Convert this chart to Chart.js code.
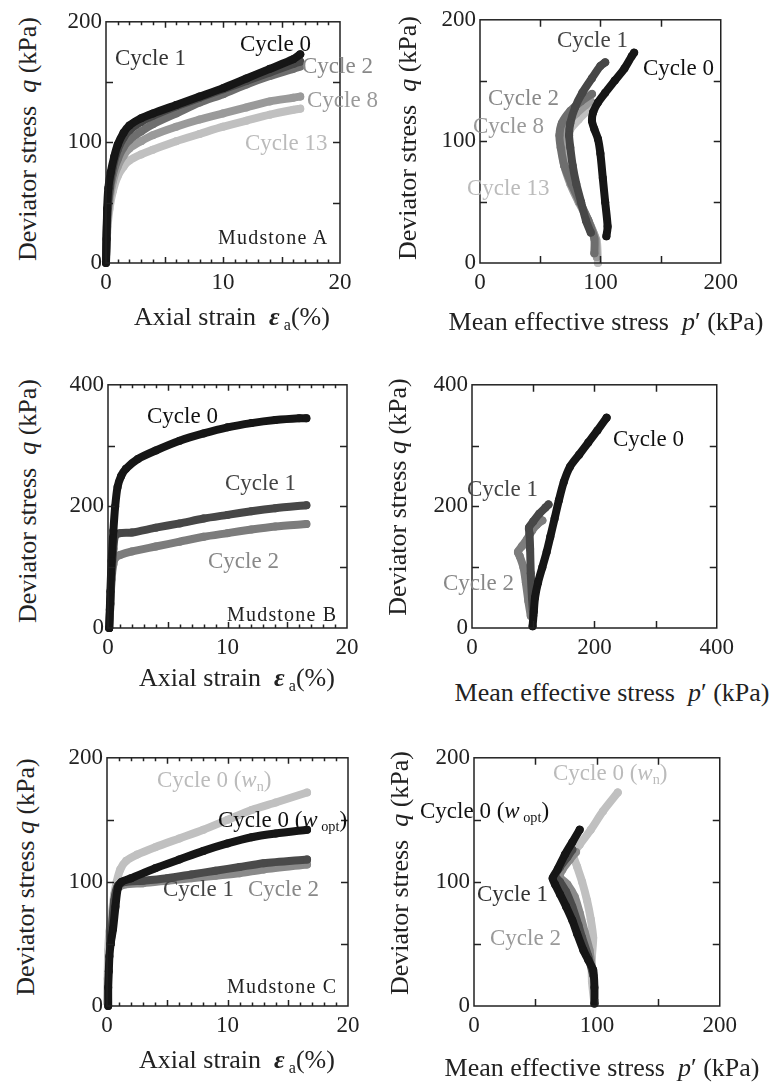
<!DOCTYPE html>
<html>
<head>
<meta charset="utf-8">
<script src="https://cdn.jsdelivr.net/npm/chart.js@4.4.1/dist/chart.umd.min.js"></script>
<style>
  body { margin: 0; background: #fff; width: 773px; height: 1084px; position: relative; overflow: hidden;
         font-family: "Liberation Serif", "Times New Roman", serif; color: #222; }
  .panel { position: absolute; }
  .lbl { position: absolute; white-space: nowrap; font-size: 23px; line-height: 1; transform: translateY(-50%); }
  .tag { font-size: 20px; letter-spacing: 1.2px; }
  .ytitle { position: absolute; white-space: nowrap; font-size: 26px; line-height: 1;
            transform: translate(-50%, -50%) rotate(-90deg); }
  .xtitle { position: absolute; white-space: nowrap; font-size: 26px; line-height: 1; transform: translate(-50%, -50%); }
  sub { font-size: 0.62em; vertical-align: -0.3em; line-height: 0; }
</style>
</head>
<body>
<script>
// Mudstone A: q (kPa) vs axial strain (%)
const aStrainC0 = [[0,0],[0.05,20],[0.1,45],[0.2,62],[0.4,75],[0.7,88],[1,98],[1.5,108],[2,114],[3,120],[4,124],[6,131],[8,138],[10,145],[12,153],[14,161],[16,169],[16.6,173]];
const aStrainC1 = [[0,5],[0.1,40],[0.3,62],[0.6,80],[1,94],[1.5,104],[2,110],[3,117],[4,122],[6,130],[8,137],[10,144],[12,151],[14,158],[16,165],[16.6,167]];
const aStrainC2 = [[0,5],[0.1,35],[0.3,58],[0.6,74],[1,86],[1.5,96],[2,102],[3,109],[4,115],[6,124],[8,133],[10,140],[12,148],[14,155],[16,161],[16.6,163]];
const aStrainC8 = [[0,5],[0.1,30],[0.3,52],[0.6,68],[1,80],[1.5,89],[2,95],[3,101],[4,106],[6,113],[8,119],[10,124],[12,129],[14,134],[16,137],[16.6,138]];
const aStrainC13 = [[0,0],[0.1,25],[0.3,45],[0.6,60],[1,72],[1.5,80],[2,85],[3,90],[4,94],[6,101],[8,107],[10,113],[12,118],[14,123],[16,127],[16.6,128]];

// Mudstone A: q vs mean effective stress p' (kPa)
const aPathC0 = [[105,22],[106,30],[104,50],[102,70],[100,90],[98,102],[95,110],[93,117],[94,124],[98,132],[104,140],[112,150],[120,160],[126,170],[128,173]];
const aPathC1 = [[92,25],[88,35],[84,50],[80,65],[77,80],[75,95],[74,105],[75,115],[79,128],[85,140],[93,152],[100,162],[104,165]];
const aPathC2 = [[95,8],[95,20],[90,35],[83,50],[76,65],[70,80],[67,95],[66,105],[68,115],[75,125],[84,133],[93,139]];
const aPathC8 = [[97,5],[96,20],[90,35],[82,50],[75,65],[70,80],[68,95],[68,105],[72,115],[80,123],[88,130],[92,133]];
const aPathC13 = [[98,0],[97,18],[92,30],[85,45],[78,60],[73,75],[71,90],[71,100],[75,110],[82,118],[90,126]];

// Mudstone B
const bStrainC0 = [[0.1,0],[0.15,30],[0.2,60],[0.3,110],[0.45,160],[0.6,200],[0.8,232],[1.1,250],[1.5,262],[2.5,278],[4,292],[6,308],[8,320],[10,330],[12,337],[14,342],[16,345],[16.6,345]];
const bStrainC1 = [[0.1,0],[0.2,40],[0.3,90],[0.45,130],[0.6,152],[1,156],[2,157],[4,165],[6,172],[8,180],[10,186],[12,192],[14,197],[16.6,202]];
const bStrainC2 = [[0.1,0],[0.2,40],[0.3,80],[0.45,105],[0.6,115],[1,120],[2,126],[4,134],[6,142],[8,150],[10,156],[12,162],[14,167],[16.6,171]];
const bPathC0 = [[99,3],[101,27],[103,50],[108,75],[115,100],[122,125],[128,150],[135,180],[142,210],[150,240],[160,265],[175,285],[190,305],[205,325],[220,346]];
const bPathC1 = [[100,20],[98,50],[96,90],[95,130],[94,155],[93,165],[100,175],[110,188],[120,198],[125,203]];
const bPathC2 = [[96,20],[92,45],[88,75],[84,100],[78,118],[75,125],[82,135],[90,146],[98,160],[106,170],[115,177]];

// Mudstone C (natural and optimum water content)
const cStrainWn = [[0,3],[0.05,22],[0.1,45],[0.2,60],[0.4,75],[0.6,90],[0.8,100],[1.1,110],[1.6,117],[2.5,122],[4,128],[6,135],[8,142],[10,150],[12,158],[14,164],[16.6,172]];
const cStrainWopt = [[0.1,0],[0.1,15],[0.15,28],[0.2,40],[0.3,50],[0.5,62],[0.7,80],[0.9,95],[1.2,100],[2,103],[4,111],[6,118],[8,125],[10,131],[12,136],[14,139],[16.6,142]];
const cStrainC1 = [[0.3,50],[0.6,85],[0.9,97],[1.5,100],[3,101],[5,103],[7,106],[9,109],[11,112],[13,115],[16.6,118]];
const cStrainC2 = [[0.3,50],[0.6,82],[0.9,95],[1.5,98],[3,99],[5,101],[7,103],[9,105],[11,107],[13,110],[16.6,114]];
const cPathWn = [[98,2],[96,20],[96,40],[97,55],[95,70],[92,85],[88,100],[84,112],[81,122],[86,130],[95,142],[105,157],[117,172]];
const cPathWopt = [[98,2],[98,15],[97,29],[93,37],[89,45],[84,58],[80,69],[75,80],[70,90],[66,98],[64,103],[68,110],[74,122],[80,132],[86,142]];
const cPathC1 = [[97,25],[93,40],[88,55],[85,65],[80,80],[75,92],[70,100],[66,105],[70,112],[76,120],[80,126]];
const cPathC2 = [[96,30],[94,45],[90,60],[86,75],[82,88],[76,98],[70,104],[72,110],[78,118],[83,124]];

const strainTitle = 'Axial strain&nbsp; <b><i>ε</i></b><sub>&nbsp;a</sub>(%)';
const pathTitle = 'Mean effective stress&nbsp; <i>p</i>′ (kPa)';
const qTitle = 'Deviator stress&nbsp; <i>q</i> (kPa)';
const wn = 'Cycle 0 (<i>w</i><sub>n</sub>)';
const wopt = 'Cycle 0 (<i>w</i><sub>&nbsp;opt</sub>)';

// box = plot area [left, top, right, bottom]; axes = [min, max, tick step, label step]
const panels = [
  { box: [106, 19, 340, 263], xAxis: [0, 20, 1, 10], yAxis: [0, 200, 50, 100],
    series: [[aStrainC0, '#161616'], [aStrainC1, '#474747'], [aStrainC2, '#6e6e6e'], [aStrainC8, '#9a9a9a'], [aStrainC13, '#c0c0c0']],
    labels: [['Cycle 0', 240, 43, '#111'], ['Cycle 1', 115, 57, '#333'], ['Cycle 2', 302, 65, '#888'],
             ['Cycle 8', 307, 99, '#999'], ['Cycle 13', 245, 142, '#bbb'], ['Mudstone A', 218, 237, '#222', 'tag']],
    yTitle: [qTitle, 28, 139], xTitle: [strainTitle, 232, 317] },
  { box: [480, 17, 724, 263], xAxis: [0, 200, 50, 100], yAxis: [0, 200, 50, 100],
    series: [[aPathC0, '#161616'], [aPathC1, '#474747'], [aPathC2, '#6e6e6e'], [aPathC8, '#9a9a9a'], [aPathC13, '#c0c0c0']],
    labels: [['Cycle 1', 557, 39, '#444'], ['Cycle 0', 643, 67, '#111'], ['Cycle 2', 488, 97, '#888'],
             ['Cycle 8', 473, 125, '#999'], ['Cycle 13', 467, 187, '#bbb']],
    yTitle: [qTitle, 408, 138], xTitle: [pathTitle, 606, 322] },
  { box: [108, 382, 347, 628], xAxis: [0, 20, 1, 10], yAxis: [0, 400, 100, 200],
    series: [[bStrainC0, '#161616'], [bStrainC1, '#474747'], [bStrainC2, '#7c7c7c']],
    labels: [['Cycle 0', 147, 415, '#111'], ['Cycle 1', 225, 482, '#444'], ['Cycle 2', 208, 560, '#888'],
             ['Mudstone B', 227, 614, '#222', 'tag']],
    yTitle: [qTitle, 28, 501], xTitle: [strainTitle, 237, 678] },
  { box: [472, 382, 720, 628], xAxis: [0, 400, 100, 200], yAxis: [0, 400, 100, 200],
    series: [[bPathC0, '#161616'], [bPathC1, '#474747'], [bPathC2, '#7c7c7c']],
    labels: [['Cycle 0', 613, 438, '#111'], ['Cycle 1', 467, 488, '#444'], ['Cycle 2', 443, 582, '#888']],
    yTitle: [qTitle.replace('&nbsp;', ''), 398, 497], xTitle: [pathTitle, 612, 693] },
  { box: [107, 755, 348, 1006], xAxis: [0, 20, 1, 10], yAxis: [0, 200, 50, 100],
    series: [[cStrainWopt, '#161616'], [cStrainC1, '#4a4a4a'], [cStrainC2, '#8a8a8a'], [cStrainWn, '#c0c0c0']],
    labels: [[wn, 157, 779, '#bbb'], [wopt, 218, 819, '#111'], ['Cycle 1', 163, 888, '#444'],
             ['Cycle 2', 248, 888, '#888'], ['Mudstone C', 227, 986, '#222', 'tag']],
    yTitle: [qTitle.replace('&nbsp;', ''), 26, 877], xTitle: [strainTitle, 237, 1060] },
  { box: [474, 755, 723, 1006], xAxis: [0, 200, 50, 100], yAxis: [0, 200, 50, 100],
    series: [[cPathWopt, '#161616'], [cPathC1, '#4a4a4a'], [cPathC2, '#8a8a8a'], [cPathWn, '#c0c0c0']],
    labels: [[wn, 553, 772, '#bbb'], [wopt, 420, 810, '#111'], ['Cycle 1', 477, 893, '#333'], ['Cycle 2', 490, 937, '#999']],
    yTitle: [qTitle, 400, 873], xTitle: [pathTitle, 602, 1068] }
];

// frame around the plot area with inward tick marks on all four sides
const frameTicks = {
  id: 'frameTicks',
  afterDraw(chart, args, opts) {
    const { ctx, chartArea: a, scales: { x, y } } = chart;
    ctx.save();
    ctx.strokeStyle = '#222';
    ctx.lineWidth = 1.5;
    ctx.strokeRect(a.left, a.top, a.right - a.left, a.bottom - a.top);
    ctx.beginPath();
    const [xMin, xMax, xStep] = opts.xAxis;
    for (let v = xMin + xStep; v < xMax - 1e-9; v += xStep) {
      const px = Math.round(x.getPixelForValue(v)) + 0.5;
      // strain axes: short minor marks, longer at every 5 %
      const len = opts.minor ? (Math.round(v) % 5 === 0 ? 6 : 3.5) : 7;
      ctx.moveTo(px, a.bottom); ctx.lineTo(px, a.bottom - len);
      ctx.moveTo(px, a.top); ctx.lineTo(px, a.top + len);
    }
    const [yMin, yMax, yStep] = opts.yAxis;
    for (let v = yMin + yStep; v < yMax - 1e-9; v += yStep) {
      const py = Math.round(y.getPixelForValue(v)) + 0.5;
      ctx.moveTo(a.left, py); ctx.lineTo(a.left + 7, py);
      ctx.moveTo(a.right, py); ctx.lineTo(a.right - 7, py);
    }
    ctx.stroke();
    ctx.restore();
  }
};

const PAD_L = 60, PAD_T = 15, PAD_R = 20, PAD_B = 40;
const tickFont = { family: '"Liberation Serif", "Times New Roman", serif', size: 23 };

function addText(cls, html, left, top, color) {
  const d = document.createElement('div');
  d.className = cls;
  d.innerHTML = html;
  d.style.left = left + 'px';
  d.style.top = top + 'px';
  if (color) d.style.color = color;
  document.body.appendChild(d);
}

panels.forEach(p => {
  const [l, t, r, b] = p.box;
  const w = r - l + PAD_L + PAD_R, h = b - t + PAD_T + PAD_B;
  const wrap = document.createElement('div');
  wrap.className = 'panel';
  wrap.style.left = (l - PAD_L) + 'px';
  wrap.style.top = (t - PAD_T) + 'px';
  const cv = document.createElement('canvas');
  cv.width = w; cv.height = h;
  cv.style.width = w + 'px'; cv.style.height = h + 'px';
  wrap.appendChild(cv);
  document.body.appendChild(wrap);

  const [xMin, xMax, xStep, xLab] = p.xAxis;
  const [yMin, yMax, yStep, yLab] = p.yAxis;

  new Chart(cv, {
    type: 'scatter',
    data: {
      datasets: p.series.map(([pts, color]) => ({
        data: pts.map(([x, y]) => ({ x, y })),
        showLine: true,
        borderColor: color,
        backgroundColor: color,
        borderWidth: 8,
        borderCapStyle: 'round',
        borderJoinStyle: 'round',
        tension: 0.25,
        pointRadius: 4,
        pointBorderWidth: 0,
        clip: false
      }))
    },
    options: {
      responsive: false,
      animation: false,
      events: [],
      layout: { padding: { left: 0, top: PAD_T, right: PAD_R, bottom: 0 } },
      plugins: { legend: { display: false }, tooltip: { enabled: false },
                 frameTicks: { xAxis: p.xAxis, yAxis: p.yAxis, minor: xStep < xLab / 2 } },
      scales: {
        x: {
          type: 'linear', min: xMin, max: xMax,
          grid: { display: false, drawTicks: false }, border: { display: false },
          ticks: { stepSize: xLab, autoSkip: false, maxRotation: 0, padding: 6, color: '#222', font: tickFont },
          afterFit: s => { s.height = PAD_B; }
        },
        y: {
          type: 'linear', min: yMin, max: yMax,
          grid: { display: false, drawTicks: false }, border: { display: false },
          ticks: { stepSize: yLab, autoSkip: false, padding: 4, color: '#222', font: tickFont },
          afterFit: s => { s.width = PAD_L; }
        }
      }
    },
    plugins: [frameTicks]
  });

  p.labels.forEach(([html, x, y, color, extra]) => addText('lbl' + (extra ? ' ' + extra : ''), html, x, y, color));
  addText('ytitle', p.yTitle[0], p.yTitle[1], p.yTitle[2]);
  addText('xtitle', p.xTitle[0], p.xTitle[1], p.xTitle[2]);
});
</script>
</body>
</html>
